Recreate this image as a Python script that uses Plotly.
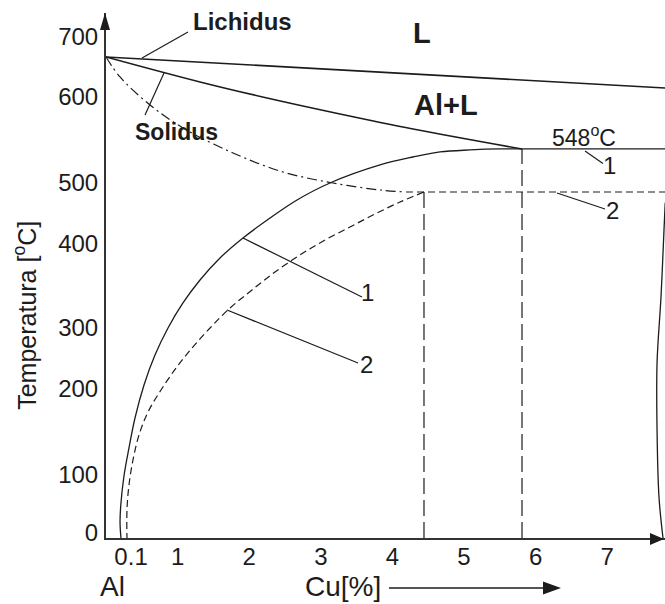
import plotly.graph_objects as go

# Al-Cu corner of the phase diagram (schematic composition axis, temperature in °C)
liquidus_cu = [0.0, 7.81]
liquidus_t = [677.5, 633.8]

solidus_cu = [0.0, 1.313, 2.249, 3.268, 4.288, 5.810]
solidus_t = [677.5, 642.3, 619.7, 597.2, 576.1, 547.9]

eutectic_cu = [5.810, 7.81]
eutectic_t = [548.0, 548.0]

# solvus 1 (equilibrium)
solvus1_cu = [5.810, 5.503, 5.084, 4.665, 4.288, 3.827, 3.128, 2.668, 2.291, 1.913,
              1.592, 1.313, 1.075, 0.866, 0.684, 0.531, 0.405, 0.321, 0.251, 0.209,
              0.196, 0.209]
solvus1_t = [547.9, 547.9, 546.5, 543.7, 536.6, 525.4, 500.0, 476.1, 450.7, 422.5,
             394.4, 363.4, 331.0, 295.8, 257.7, 215.5, 169.0, 126.8, 87.3, 49.3,
             22.5, 0.0]

# solvus 2 (shifted)
solvus2_cu = [4.441, 4.106, 3.757, 3.408, 3.059, 2.709, 2.360, 2.039, 1.732, 1.453,
              1.201, 0.978, 0.768, 0.587, 0.461, 0.377, 0.321, 0.293, 0.293]
solvus2_t = [487.3, 473.2, 456.3, 438.0, 419.7, 398.6, 374.6, 349.3, 323.9, 295.8,
             267.6, 239.4, 208.5, 177.5, 145.1, 109.9, 74.6, 39.4, 0.0]

# shifted solidus running into the lower isotherm
solidus2_cu = [0.0, 0.196, 0.615, 1.075, 1.774, 2.472, 3.170, 3.827, 4.19]
solidus2_t = [677.5, 649.3, 609.9, 577.5, 542.3, 515.5, 500.0, 490.1, 487.3]
isotherm2_cu = [4.19, 7.81]
isotherm2_t = [487.3, 487.3]

# composition markers
limit1_cu = [5.810, 5.810]
limit1_t = [0.0, 547.9]
limit2_cu = [4.441, 4.441]
limit2_t = [0.0, 487.3]

# intermetallic phase boundary at the right edge
theta_cu = [7.81, 7.793, 7.751, 7.696, 7.696, 7.723, 7.779]
theta_t = [472.0, 433.8, 339.4, 246.5, 152.1, 57.7, 0.0]

# tick labels
cu_tick_vals = [0.35, 1, 2, 3, 4, 5, 6, 7]
cu_tick_text = ["0.1", "1", "2", "3", "4", "5", "6", "7"]
t_tick_vals = [7, 90, 211, 296, 415, 500, 621, 706]
t_tick_text = ["0", "100", "200", "300", "400", "500", "600", "700"]

# leader lines: (start, end) pairs
leaders = [
    ((0.503, 676.1), (1.145, 712.7)),   # Lichidus
    ((0.810, 654.9), (0.545, 595.8)),   # Solidus
    ((6.690, 545.1), (6.940, 527.5)),   # 1 right
    ((6.299, 485.9), (6.969, 463.4)),   # 2 right
    ((1.913, 422.5), (3.575, 339.4)),   # 1 middle
    ((1.690, 321.1), (3.520, 246.5)),   # 2 middle
]

INK = "#1c1c1c"
FONT = "Liberation Sans, Arial, sans-serif"

fig = go.Figure()


def add_line(x, y, width=1.5, dash="solid", shape="linear"):
    fig.add_trace(go.Scatter(
        x=x, y=y, mode="lines", hoverinfo="skip", showlegend=False,
        line=dict(color=INK, width=width, dash=dash, shape=shape, smoothing=1.0),
    ))


add_line(liquidus_cu, liquidus_t, 1.6)
add_line(solidus_cu, solidus_t, 1.6, shape="spline")
add_line(eutectic_cu, eutectic_t, 1.4)
add_line(solvus1_cu, solvus1_t, 1.3, shape="spline")
add_line(solvus2_cu, solvus2_t, 1.2, dash="7px,4px", shape="spline")
add_line(solidus2_cu, solidus2_t, 1.2, dash="10px,4px,2px,4px", shape="spline")
add_line(isotherm2_cu, isotherm2_t, 1.2, dash="7px,4px")
add_line(limit1_cu, limit1_t, 1.2, dash="16px,6px")
add_line(limit2_cu, limit2_t, 1.2, dash="16px,6px")
add_line(theta_cu, theta_t, 1.3, shape="spline")

lx, ly = [], []
for (x0, y0), (x1, y1) in leaders:
    lx += [x0, x1, None]
    ly += [y0, y1, None]
add_line(lx, ly, 1.2)


def label(text, x, y, size, bold=False, ref="data"):
    fig.add_annotation(
        x=x, y=y,
        xref="x" if ref == "data" else "paper",
        yref="y" if ref == "data" else "paper",
        text=f"<b>{text}</b>" if bold else text,
        showarrow=False, font=dict(family=FONT, size=size, color=INK),
        xanchor="center", yanchor="middle",
    )


label("Lichidus", 1.90, 726.8, 24, bold=True)
label("Solidus", 0.978, 571.8, 23, bold=True)
label("L", 4.413, 711.3, 29, bold=True)
label("Al+L", 4.749, 609.9, 29, bold=True)
label("548<sup>o</sup>C", 6.676, 566.0, 23)
label("1", 7.03, 524.0, 24)
label("2", 7.08, 460.6, 24)
label("1", 3.659, 345.1, 24)
label("2", 3.645, 243.7, 24)
label("Al", 0.0125, -0.0933, 28, ref="paper")
label("Cu[%]", 0.424, -0.0933, 28, ref="paper")

fig.add_annotation(
    x=-0.145, y=0.425, xref="paper", yref="paper",
    text="Temperatura [<sup>o</sup>C]", textangle=-90, showarrow=False,
    font=dict(family=FONT, size=25, color=INK), xanchor="center", yanchor="middle",
)

# axis arrow heads and the composition arrow
shapes = [
    dict(type="path", xref="paper", yref="paper", xsizemode="pixel", ysizemode="pixel",
         xanchor=0, yanchor=1, path="M-1,0 L-6,-17 L4,-17 Z",
         fillcolor=INK, line=dict(width=0)),
    dict(type="path", xref="paper", yref="paper", xsizemode="pixel", ysizemode="pixel",
         xanchor=1, yanchor=0, path="M-1,-1 L-15,5 L-15,-7 Z",
         fillcolor=INK, line=dict(width=0)),
    dict(type="line", xref="paper", yref="paper",
         x0=(389 - 106) / 559, x1=(548 - 106) / 559, y0=-50 / 525, y1=-50 / 525,
         line=dict(color=INK, width=1.5)),
    dict(type="path", xref="paper", yref="paper", xsizemode="pixel", ysizemode="pixel",
         xanchor=(561 - 106) / 559, yanchor=-50 / 525, path="M0,0 L-18,6.5 L-18,-6.5 Z",
         fillcolor=INK, line=dict(width=0)),
]
fig.update_layout(shapes=shapes)

fig.update_layout(
    width=665, height=604,
    margin=dict(l=106, r=0, t=13, b=66),
    paper_bgcolor="white", plot_bgcolor="white",
    font=dict(family=FONT, color=INK),
    xaxis=dict(
        range=[0, 7.807], showgrid=False, zeroline=False,
        showline=True, linecolor="#333333", linewidth=2,
        tickmode="array", tickvals=cu_tick_vals, ticktext=cu_tick_text,
        ticks="", tickfont=dict(size=24, family=FONT, color=INK),
        ticklabelstandoff=-4,
    ),
    yaxis=dict(
        range=[0, 739.4], showgrid=False, zeroline=False,
        showline=True, linecolor="#333333", linewidth=2,
        tickmode="array", tickvals=t_tick_vals, ticktext=t_tick_text,
        ticks="", tickfont=dict(size=24, family=FONT, color=INK),
        ticklabelstandoff=1,
    ),
)

fig.write_html("out.html")
